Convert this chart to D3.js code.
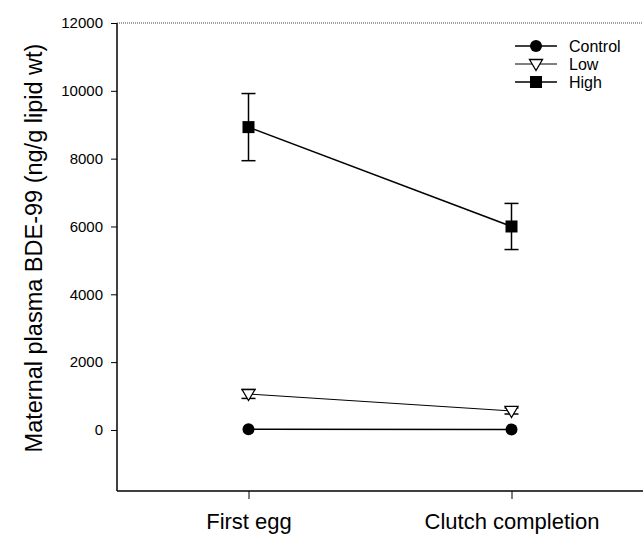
<!DOCTYPE html>
<html lang="en">
<head>
<meta charset="UTF-8">
<script src="https://d3js.org/d3.v7.min.js"></script>
<title>BDE-99</title>
<style>
  body { margin: 0; background: #fff; }
  text { font-family: Arial, "Liberation Sans", sans-serif; fill: #000; }
</style>
</head>
<body>
<script>
// data
var categories = ["First egg", "Clutch completion"];
var groups = ["Control", "Low", "High"];
var controlMean = [20, 15];
var controlErr = [0, 0];
var lowMean = [1060, 560];
var lowErr = [130, 90];
var highMean = [8930, 6000];
var highErr = [990, 680];
var yTicks = [0, 2000, 4000, 6000, 8000, 10000, 12000];

var w = 643, h = 541;
var mLeft = 117, mRight = 643, mTop = 23, mBottom = 491;

var svg = d3.select("body").append("svg")
    .attr("width", w)
    .attr("height", h);

var x = d3.scalePoint().domain(categories).range([mLeft, mRight]).padding(0.5);
var y = d3.scaleLinear().domain([-1800, 12000]).range([mBottom, mTop]);

// axes
var yAxis = d3.axisLeft(y).tickValues(yTicks).tickSize(6).tickPadding(8).tickFormat(d3.format("d"));
var gy = svg.append("g").attr("transform", "translate(" + mLeft + ",0)").call(yAxis);
gy.select(".domain").remove();
gy.selectAll("line").attr("stroke", "#000");
gy.selectAll("text").style("font-size", "15px");

var xAxis = d3.axisBottom(x).tickSize(8).tickPadding(14);
var gx = svg.append("g").attr("transform", "translate(0," + mBottom + ")").call(xAxis);
gx.select(".domain").remove();
gx.selectAll("line").attr("stroke", "#000");
gx.selectAll("text").style("font-size", "22px");

// frame
svg.append("line").attr("x1", mLeft).attr("x2", mLeft).attr("y1", mTop).attr("y2", mBottom)
    .attr("stroke", "#000").attr("stroke-width", 1.5);
svg.append("line").attr("x1", mLeft).attr("x2", mRight).attr("y1", mBottom).attr("y2", mBottom)
    .attr("stroke", "#000").attr("stroke-width", 1.5);
svg.append("line").attr("x1", mLeft).attr("x2", mRight).attr("y1", mTop).attr("y2", mTop)
    .attr("stroke", "#444").attr("stroke-width", 1).attr("stroke-dasharray", "1,1");

// y title
svg.append("text")
    .attr("transform", "translate(42," + ((mTop + mBottom) / 2 - 9) + ") rotate(-90)")
    .attr("text-anchor", "middle")
    .style("font-size", "23.5px")
    .text("Maternal plasma BDE-99 (ng/g lipid wt)");

var series = [
  {name: "Control", mean: controlMean, err: controlErr, shape: "circle", width: 1.5},
  {name: "Low", mean: lowMean, err: lowErr, shape: "triangle", width: 1},
  {name: "High", mean: highMean, err: highErr, shape: "square", width: 1.5}
];

function marker(g, shape, cx, cy) {
  if (shape === "circle") {
    g.append("circle").attr("cx", cx).attr("cy", cy).attr("r", 6).attr("fill", "#000");
  } else if (shape === "square") {
    g.append("rect").attr("x", cx - 6).attr("y", cy - 6).attr("width", 12).attr("height", 12).attr("fill", "#000");
  } else {
    g.append("path")
      .attr("d", "M" + (cx - 6.5) + "," + (cy - 4.5) + "L" + (cx + 6.5) + "," + (cy - 4.5) + "L" + cx + "," + (cy + 6.5) + "Z")
      .attr("fill", "#fff").attr("stroke", "#000").attr("stroke-width", 1.3);
  }
}

var line = d3.line()
    .x(function(d, i) { return x(categories[i]); })
    .y(function(d) { return y(d); });

series.forEach(function(s) {
  var g = svg.append("g");
  // error bars
  s.mean.forEach(function(m, i) {
    if (!s.err[i]) return;
    var cx = x(categories[i]);
    var y1 = y(m + s.err[i]), y2 = y(m - s.err[i]);
    g.append("line").attr("x1", cx).attr("x2", cx).attr("y1", y1).attr("y2", y2)
      .attr("stroke", "#000").attr("stroke-width", 1.5);
    [y1, y2].forEach(function(yy) {
      g.append("line").attr("x1", cx - 7).attr("x2", cx + 7).attr("y1", yy).attr("y2", yy)
        .attr("stroke", "#000").attr("stroke-width", 1.5);
    });
  });
  g.append("path").datum(s.mean).attr("d", line)
    .attr("fill", "none").attr("stroke", "#000").attr("stroke-width", s.width);
  s.mean.forEach(function(m, i) {
    marker(g, s.shape, x(categories[i]), y(m));
  });
});

// legend
var legend = svg.append("g");
series.forEach(function(s, i) {
  var ly = 46 + i * 18;
  legend.append("line").attr("x1", 515).attr("x2", 557).attr("y1", ly).attr("y2", ly)
    .attr("stroke", "#000").attr("stroke-width", s.width);
  marker(legend, s.shape, 536, ly);
  legend.append("text").attr("x", 569).attr("y", ly + 6).style("font-size", "16px").text(s.name);
});
</script>
</body>
</html>
